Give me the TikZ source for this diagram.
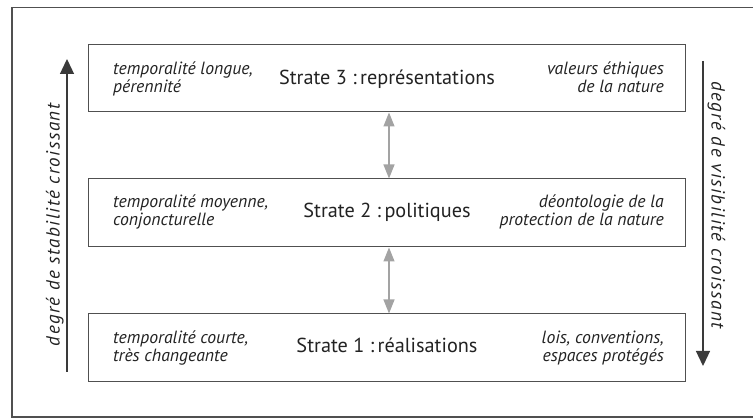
\documentclass[tikz,border=0pt]{standalone}
\usepackage{fontspec}
\setmainfont{PT Sans}
\usetikzlibrary{arrows.meta}
\definecolor{framec}{HTML}{505050}
\definecolor{darkarr}{HTML}{3A3A3A}
\definecolor{lightarr}{HTML}{A3A3A3}
\definecolor{txt}{HTML}{222222}
\begin{document}
\begin{tikzpicture}[x=1pt,y=-1pt,
  stratebox/.style={draw=framec,line width=1pt,minimum width=597pt,inner sep=0pt},
  title/.style={font=\fontsize{20.25}{22}\selectfont,text=txt,anchor=base,inner sep=0pt},
  side/.style={font=\fontsize{17.7}{19}\selectfont\itshape,text=txt,inner sep=0pt},
  axislab/.style={font=\fontsize{19}{21}\selectfont\itshape\addfontfeature{LetterSpace=7.5},text=txt,anchor=base,inner sep=0pt},
  bigarr/.style={draw=darkarr,line width=1.3pt,-{Triangle[length=15pt,width=14pt,fill=darkarr]}},
  grayarr/.style={draw=lightarr,line width=1.2pt,{Triangle[length=14pt,width=11pt]}-{Triangle[length=14pt,width=11pt]}}]
\useasboundingbox (0,0) rectangle (753,419);
\draw[framec,line width=1.2pt] (753,7.5) -- (12,7.5) -- (12,417) -- (753,417);
% boxes
\node[stratebox,minimum height=67pt] (s3) at (386.5,78.5) {};
\node[stratebox,minimum height=68pt] (s2) at (386.5,213) {};
\node[stratebox,minimum height=68pt] (s1) at (386.5,348) {};
% titles
\node[title] (t3) at (387,85) {Strate 3 :\,représentations};
\node[title] (t2) at (387,218) {Strate 2 :\,politiques};
\node[title] (t1) at (387,353) {Strate 1 :\,réalisations};
% side texts
\node[side,anchor=base west] (l3a) at (113,75) {temporalité longue,};
\node[side,anchor=base west] (l3b) at (113,93) {pérennité};
\node[side,anchor=base east] (r3a) at (664,75) {valeurs éthiques};
\node[side,anchor=base east] (r3b) at (664,93) {de la nature};
\node[side,anchor=base west] (l2a) at (113,208) {temporalité moyenne,};
\node[side,anchor=base west] (l2b) at (113,226) {conjoncturelle};
\node[side,anchor=base east] (r2a) at (664,208) {déontologie de la};
\node[side,anchor=base east] (r2b) at (664,226) {protection de la nature};
\node[side,anchor=base west] (l1a) at (113,344) {temporalité courte,};
\node[side,anchor=base west] (l1b) at (113,362) {très changeante};
\node[side,anchor=base east] (r1a) at (664,344) {lois, conventions,};
\node[side,anchor=base east] (r1b) at (664,362) {espaces protégés};
% gray arrows
\draw[grayarr] (s3.south -| 389,0) -- (s2.north -| 389,0);
\draw[grayarr] (s2.south -| 389,0) -- (s1.north -| 389,0);
% axes
\coordinate (la) at (67,372);
\coordinate (lb) at (67,59);
\coordinate (ra) at (703,61);
\coordinate (rb) at (703,366);
\draw[bigarr] (la) -- (lb);
\draw[bigarr] (ra) -- (rb);
\node[axislab,rotate=90] (lt) at (59.5,225) {degré de stabilité croissant};
\node[axislab,rotate=-90] (rt) at (711.5,205) {degré de visibilité croissant};
\end{tikzpicture}
\end{document}
